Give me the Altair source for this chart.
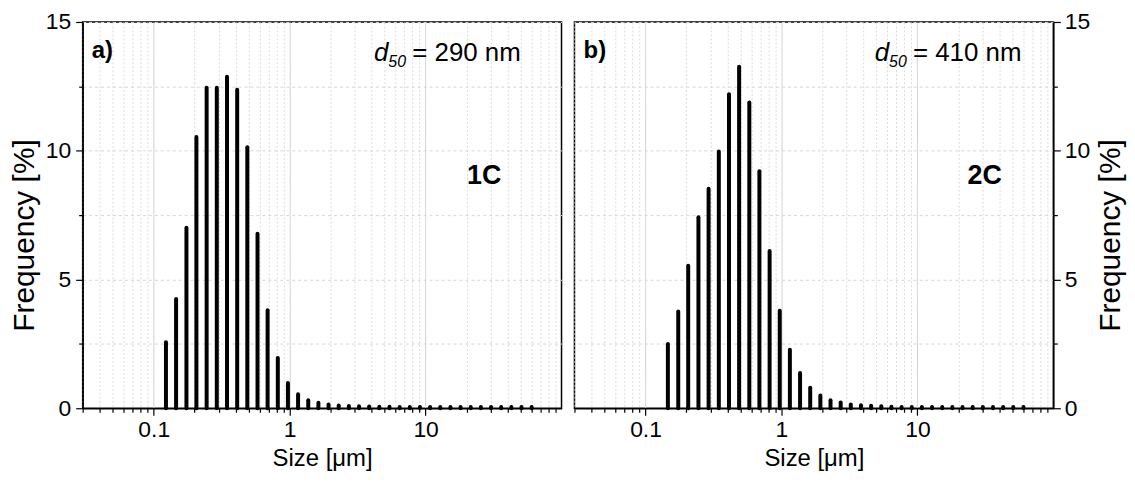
import altair as alt
import pandas as pd

# particle size classes [µm] (bar positions)
sizes = [0.123, 0.146, 0.174, 0.206, 0.245, 0.291, 0.346, 0.411, 0.488, 0.580,
         0.688, 0.818, 0.971, 1.153, 1.370, 1.627, 1.932, 2.295, 2.726, 3.237,
         3.845, 4.567, 5.424, 6.442, 7.651, 9.087, 10.79, 12.82, 15.23, 18.08,
         21.48, 25.51, 30.30, 35.98, 42.74, 50.76, 60.29]

# frequency [%] sample 1C (starts at sizes[0])
freq_1c = [2.56, 4.24, 7.01, 10.53, 12.45, 12.45, 12.87, 12.37, 10.14, 6.78,
           3.81, 1.95, 0.98, 0.54, 0.31, 0.21, 0.15, 0.11, 0.09, 0.08,
           0.07, 0.06, 0.06, 0.05, 0.05, 0.05, 0.05, 0.05, 0.05, 0.05,
           0.05, 0.05, 0.05, 0.05, 0.05, 0.05, 0.05]

# frequency [%] sample 2C (starts at sizes[1])
freq_2c = [2.50, 3.76, 5.53, 7.42, 8.52, 9.97, 12.19, 13.26, 11.87, 9.20,
           6.11, 3.79, 2.27, 1.37, 0.80, 0.50, 0.31, 0.22, 0.15, 0.12,
           0.10, 0.08, 0.06, 0.05, 0.05, 0.05, 0.05, 0.05, 0.05, 0.05,
           0.05, 0.05, 0.05, 0.05, 0.05, 0.05]

x_ticks = [0.03, 0.04, 0.05, 0.06, 0.07, 0.08, 0.09,
           0.1, 0.2, 0.3, 0.4, 0.5, 0.6, 0.7, 0.8, 0.9,
           1, 2, 3, 4, 5, 6, 7, 8, 9,
           10, 20, 30, 40, 50, 60, 70, 80, 90]
x_major = [0.1, 1, 10]
x_tick_labels = ["0.1", "1", "10"]
y_ticks = [0, 2.5, 5, 7.5, 10, 12.5, 15]
y_tick_labels = ["0", "5", "10", "15"]

panel_letters = ["a)", "b)"]
d50_values = ["= 290 nm", "= 410 nm"]
sample_codes = ["1C", "2C"]
letter_pos = [(0.035, 13.6), (0.035, 13.6)]
d50_pos = [(7.97, 13.5), (9.27, 13.5)]
code_pos = [(20.2, 8.7), (23.4, 8.7)]

FONT = "Liberation Sans"

major_test = " || ".join(f"datum.value == {v}" for v in x_major)
x_label_expr = " : ".join(
    f"datum.value == {v} ? '{t}'" for v, t in zip(x_major, x_tick_labels)) + " : ''"
y_label_expr = "datum.value % 5 == 0 ? datum.label : ''"


def panel(xs, ys, idx, orient):
    df = pd.DataFrame({"size": xs, "freq": ys})
    xenc = alt.X(
        "size:Q",
        scale=alt.Scale(type="log", domain=[0.03, 100], nice=False),
        axis=alt.Axis(
            title="Size [μm]", values=x_ticks, labelExpr=x_label_expr,
            labelOverlap=False, labelFlush=False, grid=True,
            gridColor={"condition": {"test": major_test, "value": "#cfcfcf"}, "value": "#dcdcdc"},
            gridDash={"condition": {"test": major_test, "value": [1, 0]}, "value": [2, 2]},
            tickSize={"condition": {"test": major_test, "value": 7}, "value": 4},
            labelPadding=3, titlePadding=6, labelFontSize=23, titleFontSize=24,
        ),
    )
    yenc = alt.Y(
        "freq:Q",
        scale=alt.Scale(domain=[0, 15], nice=False),
        axis=alt.Axis(
            title="Frequency [%]", orient=orient, values=y_ticks,
            labelExpr=y_label_expr, labelOverlap=False, labelFlush=False,
            grid=True, gridColor="#d6d6d6", gridDash=[3, 3],
            tickSize={"condition": {"test": "datum.value % 5 == 0", "value": 7}, "value": 4},
            labelPadding=5 if orient == "left" else 4,
            titlePadding=6, titleAngle=270,
            labelFontSize=23, titleFontSize=30, titleY=214,
            titleBaseline="bottom" if orient == "left" else "top",
        ),
    )
    bars = alt.Chart(df).mark_rule(strokeWidth=4, strokeCap="round", color="black").encode(
        x=xenc, y=yenc, y2=alt.datum(0))

    lx, ly = letter_pos[idx]
    dx_, dy_ = d50_pos[idx]
    cx, cy = code_pos[idx]
    letter = alt.Chart(pd.DataFrame({"size": [lx], "freq": [ly], "t": [panel_letters[idx]]})).mark_text(
        align="left", baseline="alphabetic", font=FONT, fontSize=24, fontWeight="bold", color="black"
    ).encode(x="size:Q", y="freq:Q", text="t:N")
    d50df = pd.DataFrame({"size": [dx_], "freq": [dy_], "d": ["d"], "s": ["50"], "t": [d50_values[idx]]})
    dmark = alt.Chart(d50df).mark_text(
        align="right", baseline="alphabetic", font=FONT, fontSize=26, fontStyle="italic",
        dx=-24, color="black").encode(x="size:Q", y="freq:Q", text="d:N")
    sub = alt.Chart(d50df).mark_text(
        align="left", baseline="alphabetic", font=FONT, fontSize=16, fontStyle="italic",
        dx=-24, dy=6, color="black").encode(x="size:Q", y="freq:Q", text="s:N")
    rest = alt.Chart(d50df).mark_text(
        align="left", baseline="alphabetic", font=FONT, fontSize=26, color="black"
    ).encode(x="size:Q", y="freq:Q", text="t:N")
    code = alt.Chart(pd.DataFrame({"size": [cx], "freq": [cy], "t": [sample_codes[idx]]})).mark_text(
        align="left", baseline="alphabetic", font=FONT, fontSize=27, fontWeight="bold", color="black"
    ).encode(x="size:Q", y="freq:Q", text="t:N")

    return alt.layer(bars, letter, dmark, sub, rest, code).properties(width=481, height=388)


left = panel(sizes, freq_1c, 0, "left")
right = panel(sizes[1:], freq_2c, 1, "right")

chart = alt.hconcat(left, right, spacing=10).properties(
    padding={"left": 0, "top": 1, "right": 0, "bottom": 2}
).configure_view(stroke="black", strokeWidth=1.5).configure_axis(
    domainColor="black", domainWidth=1.5, tickColor="black", tickWidth=1.2,
    labelFont=FONT, titleFont=FONT,
    labelColor="black", titleColor="black", titleFontWeight="normal",
)

chart.save("out.html", embed_options={"renderer": "svg", "actions": False})
